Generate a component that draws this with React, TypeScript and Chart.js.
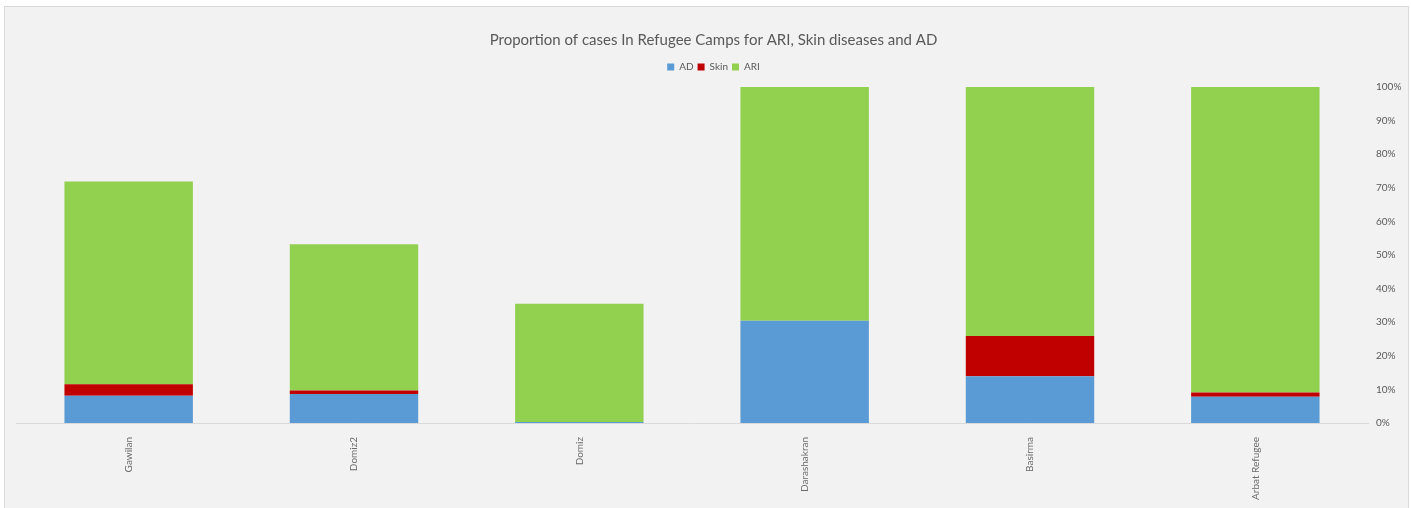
import React, { useEffect, useRef } from "react";
import { Chart, registerables } from "chart.js";

Chart.register(...registerables);

const categories = ["Gawilan", "Domiz2", "Domiz", "Darashakran", "Basirma", "Arbat Refugee"];
const adValues = [8.1, 8.6, 0.3, 30.4, 13.9, 7.8];
const skinValues = [3.4, 1.1, 0, 0, 12.0, 1.3];
const ariValues = [60.4, 43.5, 35.2, 69.6, 74.1, 90.9];
const yTickValues = [0, 10, 20, 30, 40, 50, 60, 70, 80, 90, 100];

const TEXT = "#595959";
const FONT = "Lato, 'Liberation Sans', sans-serif";

export default function App() {
  const ref = useRef<HTMLCanvasElement | null>(null);

  useEffect(() => {
    document.body.style.margin = "0";
    const canvas = ref.current;
    if (!canvas) return;
    const chart = new Chart(canvas, {
      type: "bar",
      data: {
        labels: categories,
        datasets: [
          { label: "AD", data: adValues, backgroundColor: "#5b9bd5", borderWidth: 0 },
          { label: "Skin", data: skinValues, backgroundColor: "#c00000", borderWidth: 0 },
          { label: "ARI", data: ariValues, backgroundColor: "#92d050", borderWidth: 0 },
        ],
      },
      options: {
        responsive: false,
        animation: false,
        devicePixelRatio: 1,
        layout: { padding: { left: 16, right: 0, top: 0, bottom: 0 } },
        datasets: { bar: { categoryPercentage: 1, barPercentage: 0.57 } },
        plugins: {
          title: {
            display: true,
            text: "Proportion of cases In Refugee Camps for ARI, Skin diseases and AD",
            color: TEXT,
            font: { family: FONT, size: 15, weight: "normal", lineHeight: 1.2 },
            padding: { top: 31, bottom: 9 },
          },
          legend: {
            display: true,
            position: "top",
            labels: {
              color: TEXT,
              font: { family: FONT, size: 10 },
              boxWidth: 7,
              boxHeight: 7,
              padding: 4,
            },
          },
          subtitle: {
            display: true,
            position: "top",
            weight: 500,
            text: "",
            font: { size: 1, lineHeight: 1 },
            padding: { top: 0, bottom: 4 },
          },
          tooltip: { enabled: false },
        },
        scales: {
          x: {
            stacked: true,
            grid: { display: false },
            border: { display: true, color: "#d9d9d9", width: 1 },
            ticks: {
              color: "#6b6b6b",
              font: { family: FONT, size: 10 },
              minRotation: 90,
              maxRotation: 90,
              padding: 6,
              autoSkip: false,
            },
            afterFit: (scale: any) => {
              scale.height = 85;
            },
          },
          y: {
            stacked: true,
            position: "right",
            min: 0,
            max: 100,
            grid: { display: false, drawTicks: false },
            border: { display: false },
            afterBuildTicks: (scale: any) => {
              scale.ticks = yTickValues.map((v) => ({ value: v }));
            },
            ticks: {
              color: TEXT,
              font: { family: FONT, size: 10 },
              padding: 8,
              callback: (v: any) => `${v}%`,
            },
            afterFit: (scale: any) => {
              scale.width = 43;
            },
          },
        },
      },
    });
    return () => chart.destroy();
  }, []);

  return (
    <div style={{ position: "relative", width: 1411, height: 508, overflow: "hidden", background: "#ffffff" }}>
      <div
        style={{
          position: "absolute",
          left: 4,
          top: 6,
          width: 1405,
          height: 510,
          boxSizing: "border-box",
          border: "1px solid #d9d9d9",
          background: "#f2f2f2",
        }}
      />
      <canvas
        ref={ref}
        width={1411}
        height={508}
        style={{ position: "absolute", left: 0, top: 0, width: 1411, height: 508 }}
      />
    </div>
  );
}
